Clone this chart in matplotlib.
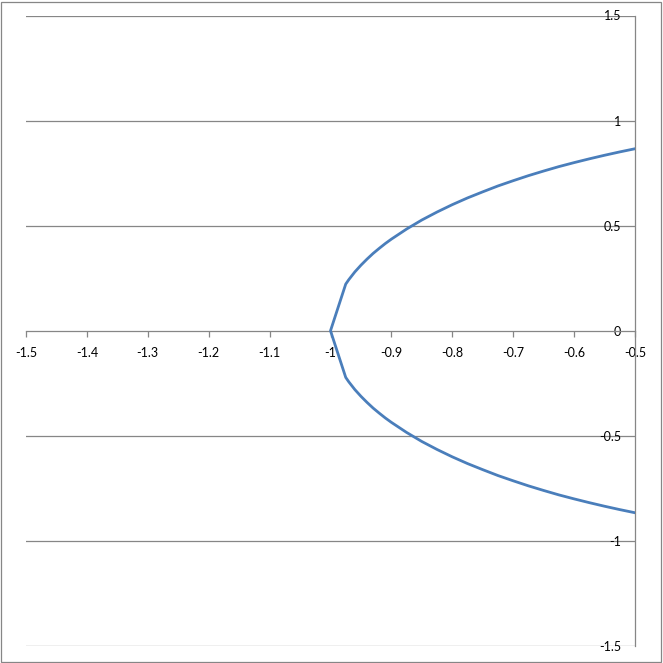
from matplotlib import pyplot as plt
from matplotlib.patches import Rectangle

# upper branch of the curve, x from -1 to -0.5
x_vals = [-1.0, -0.975, -0.97, -0.96, -0.95, -0.94, -0.93, -0.92, -0.91, -0.9,
          -0.875, -0.85, -0.825, -0.8, -0.775, -0.75, -0.725, -0.7, -0.675, -0.65,
          -0.625, -0.6, -0.575, -0.55, -0.525, -0.5]
y_upper = [0.0, 0.222, 0.243, 0.280, 0.312, 0.341, 0.368, 0.392, 0.415, 0.436,
           0.484, 0.527, 0.565, 0.600, 0.632, 0.661, 0.689, 0.714, 0.738, 0.760,
           0.781, 0.800, 0.818, 0.835, 0.851, 0.866]
y_lower = [-v for v in y_upper]

x_ticks = [-1.5, -1.4, -1.3, -1.2, -1.1, -1.0, -0.9, -0.8, -0.7, -0.6, -0.5]
x_labels = ['-1.5', '-1.4', '-1.3', '-1.2', '-1.1', '-1', '-0.9', '-0.8', '-0.7', '-0.6', '-0.5']
y_ticks = [1.5, 1.0, 0.5, 0.0, -0.5, -1.0, -1.5]
y_labels = ['1.5', '1', '0.5', '0', '-0.5', '-1', '-1.5']

grey = '#868686'
blue = '#4A7EBB'

plt.rcParams['font.family'] = ['Lato', 'DejaVu Sans']

W = 663.0
fig = plt.figure(figsize=(6.63, 6.63), dpi=100)
ax = fig.add_axes([26 / W, (663 - 646) / W, (635 - 26) / W, (646 - 15.5) / W])

# one path: lower branch back to the vertex, then the upper branch
px = x_vals[::-1] + x_vals[1:]
py = y_lower[::-1] + y_upper[1:]
ax.plot(px, py, color=blue, linewidth=2.0, solid_joinstyle='round', zorder=3)

ax.set_xlim(-1.5, -0.5)
ax.set_ylim(-1.5, 1.5)

for yv in y_ticks:
    if yv != 0:
        ax.axhline(yv, color=grey, linewidth=0.9, zorder=1)

for s in ['top', 'right']:
    ax.spines[s].set_visible(False)
ax.spines['bottom'].set_position(('data', 0))
ax.spines['left'].set_position(('data', -0.5))
ax.spines['bottom'].set_color(grey)
ax.spines['left'].set_color(grey)
ax.spines['bottom'].set_linewidth(0.9)
ax.spines['left'].set_linewidth(0.9)

ax.set_xticks(x_ticks)
ax.set_xticklabels(x_labels)
ax.set_yticks(y_ticks)
ax.set_yticklabels(y_labels)
ax.tick_params(axis='x', direction='out', length=4, width=0.9, color=grey,
               labelsize=9, pad=8)
ax.tick_params(axis='y', length=0, labelsize=9, pad=10)
ax.patch.set_alpha(0)

# outer chart border
fig.patches.append(Rectangle((1 / W, 1 / W), 660 / W, 660 / W, transform=fig.transFigure,
                             fill=False, edgecolor=grey, linewidth=0.9))

fig.savefig('out.png', dpi=100)
